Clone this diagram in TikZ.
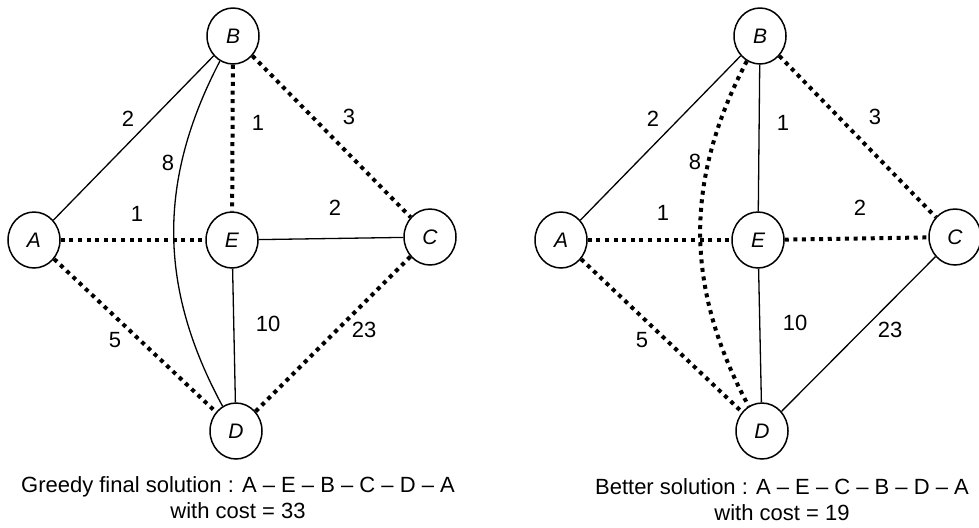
\documentclass[tikz,border=0pt]{standalone}
\usepackage{fontspec}
\setmainfont{Liberation Sans}
\usetikzlibrary{shapes.geometric}

\begin{document}
\begin{tikzpicture}[x=0.5pt, y=-0.5pt,
		city/.style={draw, ellipse, line width=0.75pt, minimum width=26pt, minimum height=28pt, inner sep=0pt, font=\itshape\fontsize{10.5}{12}\selectfont},
		road/.style={line width=0.65pt},
		tour/.style={line width=2pt, dash pattern=on 2pt off 2.3pt},
		cost/.style={font=\fontsize{11}{13}\selectfont},
		caption/.style={align=center, font=\fontsize{11}{13}\selectfont}]
	\useasboundingbox (0,0) rectangle (979,527);

	% greedy tour
	\node[city] (gA) at (34,240) {A};
	\node[city] (gB) at (233,36) {B};
	\node[city] (gE) at (232,240) {E};
	\node[city] (gC) at (430,237) {C};
	\node[city] (gD) at (236,431) {D};
	\draw[road] (gA) -- (gB);
	\draw[road] (gB) to[bend right=28] (gD);
	\draw[tour] (gB) -- (gE);
	\draw[tour] (gB) -- (gC);
	\draw[tour] (gA) -- (gE);
	\draw[road] (gE) -- (gC);
	\draw[tour] (gA) -- (gD);
	\draw[road] (gE) -- (gD);
	\draw[tour] (gC) -- (gD);
	\node[cost] (gAB) at (128,119) {2};
	\node[cost] (gBD) at (168,163) {8};
	\node[cost] (gBE) at (258,123) {1};
	\node[cost] (gBC) at (349,117) {3};
	\node[cost] (gAE) at (137,214) {1};
	\node[cost] (gEC) at (335,208) {2};
	\node[cost] (gAD) at (115,340) {5};
	\node[cost] (gED) at (268,324) {10};
	\node[cost] (gCD) at (364,330) {23};
	\node[caption] (gtext) at (238,498) {Greedy final solution : A -- E -- B -- C -- D -- A\\with cost = 33};

	% better tour
	\begin{scope}[shift={(526,0)}]
	\node[city] (bA) at (35,240) {A};
	\node[city] (bB) at (234,36) {B};
	\node[city] (bE) at (232,240) {E};
	\node[city] (bC) at (429,237) {C};
	\node[city] (bD) at (236,431) {D};
	\draw[road] (bA) -- (bB);
	\draw[tour] (bB) to[bend right=28] (bD);
	\draw[road] (bB) -- (bE);
	\draw[tour] (bB) -- (bC);
	\draw[tour] (bA) -- (bE);
	\draw[tour] (bE) -- (bC);
	\draw[tour] (bA) -- (bD);
	\draw[road] (bE) -- (bD);
	\draw[road] (bC) -- (bD);
	\node[cost] (bAB) at (127,119) {2};
	\node[cost] (bBD) at (169,162) {8};
	\node[cost] (bBE) at (257,123) {1};
	\node[cost] (bBC) at (349,117) {3};
	\node[cost] (bAE) at (137,213) {1};
	\node[cost] (bEC) at (334,208) {2};
	\node[cost] (bAD) at (116,340) {5};
	\node[cost] (bED) at (269,323) {10};
	\node[cost] (bCD) at (364,330) {23};
	\node[caption] (btext) at (256,500) {Better solution : A -- E -- C -- B -- D -- A\\with cost = 19};
	\end{scope}
\end{tikzpicture}
\end{document}
